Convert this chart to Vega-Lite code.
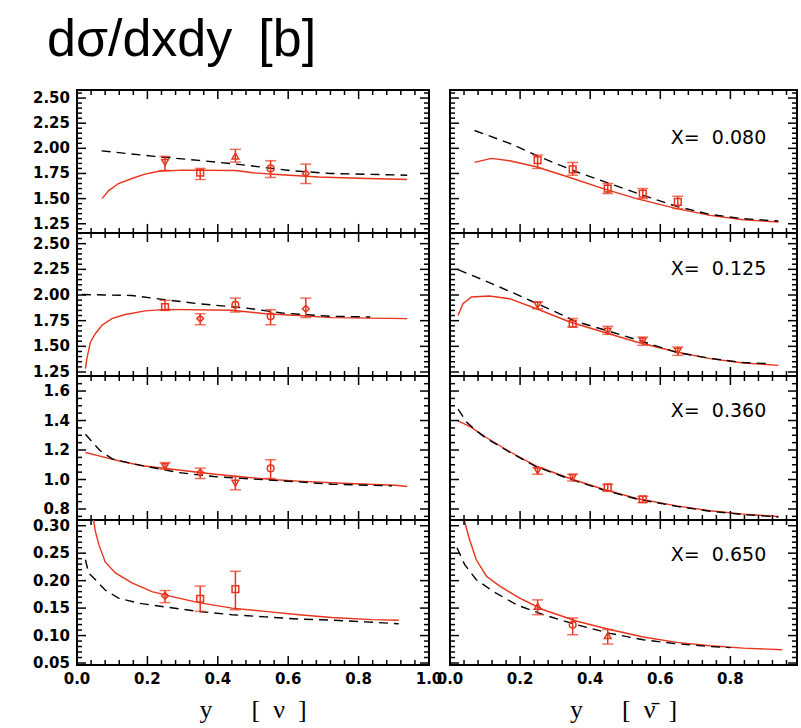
{
"$schema": "https://vega.github.io/schema/vega-lite/v6.json",
"padding": {"left": 31, "top": 14, "right": 5, "bottom": 5},
"background": "white",
"title": {"text": "dσ/dxdy\u2002[b]", "anchor": "start", "frame": "bounds", "font": "Liberation Sans", "fontSize": 52, "fontWeight": "normal", "color": "black", "offset": 21, "dx": 15},
"config": {
  "view": {"stroke": "black", "strokeWidth": 2},
  "axis": {"domain": false, "grid": false, "ticks": false, "labels": false},
  "rule": {"color": "black", "strokeWidth": 1.5}
},
"datasets": {
"curves": [
{"p":"L1","m":"s","x":0.071,"v":1.50},{"p":"L1","m":"s","x":0.09,"v":1.58},{"p":"L1","m":"s","x":0.118,"v":1.65},{"p":"L1","m":"s","x":0.156,"v":1.70},{"p":"L1","m":"s","x":0.193,"v":1.743},{"p":"L1","m":"s","x":0.232,"v":1.772},{"p":"L1","m":"s","x":0.3,"v":1.783},{"p":"L1","m":"s","x":0.45,"v":1.78},{"p":"L1","m":"s","x":0.5,"v":1.757},{"p":"L1","m":"s","x":0.58,"v":1.737},{"p":"L1","m":"s","x":0.686,"v":1.715},{"p":"L1","m":"s","x":0.8,"v":1.702},{"p":"L1","m":"s","x":0.886,"v":1.695},{"p":"L1","m":"s","x":0.938,"v":1.69},
{"p":"L1","m":"d","x":0.07,"v":1.975},{"p":"L1","m":"d","x":0.22,"v":1.92},{"p":"L1","m":"d","x":0.346,"v":1.88},{"p":"L1","m":"d","x":0.478,"v":1.833},{"p":"L1","m":"d","x":0.61,"v":1.777},{"p":"L1","m":"d","x":0.72,"v":1.75},{"p":"L1","m":"d","x":0.938,"v":1.733},
{"p":"R1","m":"s","x":0.07,"v":1.86},{"p":"R1","m":"s","x":0.118,"v":1.90},{"p":"R1","m":"s","x":0.17,"v":1.877},{"p":"R1","m":"s","x":0.246,"v":1.817},{"p":"R1","m":"s","x":0.342,"v":1.71},{"p":"R1","m":"s","x":0.437,"v":1.60},{"p":"R1","m":"s","x":0.532,"v":1.50},{"p":"R1","m":"s","x":0.647,"v":1.40},{"p":"R1","m":"s","x":0.742,"v":1.333},{"p":"R1","m":"s","x":0.837,"v":1.29},{"p":"R1","m":"s","x":0.937,"v":1.267},
{"p":"R1","m":"d","x":0.07,"v":2.177},{"p":"R1","m":"d","x":0.17,"v":2.05},{"p":"R1","m":"d","x":0.266,"v":1.90},{"p":"R1","m":"d","x":0.36,"v":1.767},{"p":"R1","m":"d","x":0.456,"v":1.65},{"p":"R1","m":"d","x":0.551,"v":1.533},{"p":"R1","m":"d","x":0.646,"v":1.423},{"p":"R1","m":"d","x":0.742,"v":1.343},{"p":"R1","m":"d","x":0.837,"v":1.30},{"p":"R1","m":"d","x":0.937,"v":1.277},
{"p":"L2","m":"s","x":0.024,"v":1.282},{"p":"L2","m":"s","x":0.028,"v":1.38},{"p":"L2","m":"s","x":0.038,"v":1.54},{"p":"L2","m":"s","x":0.052,"v":1.623},{"p":"L2","m":"s","x":0.071,"v":1.705},{"p":"L2","m":"s","x":0.099,"v":1.77},{"p":"L2","m":"s","x":0.137,"v":1.81},{"p":"L2","m":"s","x":0.194,"v":1.845},{"p":"L2","m":"s","x":0.25,"v":1.86},{"p":"L2","m":"s","x":0.44,"v":1.852},{"p":"L2","m":"s","x":0.535,"v":1.818},{"p":"L2","m":"s","x":0.63,"v":1.80},{"p":"L2","m":"s","x":0.724,"v":1.78},{"p":"L2","m":"s","x":0.938,"v":1.77},
{"p":"L2","m":"d","x":0.014,"v":2.005},{"p":"L2","m":"d","x":0.156,"v":1.995},{"p":"L2","m":"d","x":0.25,"v":1.954},{"p":"L2","m":"d","x":0.346,"v":1.915},{"p":"L2","m":"d","x":0.48,"v":1.873},{"p":"L2","m":"d","x":0.582,"v":1.825},{"p":"L2","m":"d","x":0.724,"v":1.792},{"p":"L2","m":"d","x":0.833,"v":1.786},
{"p":"R2","m":"s","x":0.023,"v":1.80},{"p":"R2","m":"s","x":0.037,"v":1.915},{"p":"R2","m":"s","x":0.061,"v":1.98},{"p":"R2","m":"s","x":0.113,"v":1.99},{"p":"R2","m":"s","x":0.17,"v":1.964},{"p":"R2","m":"s","x":0.247,"v":1.866},{"p":"R2","m":"s","x":0.342,"v":1.737},{"p":"R2","m":"s","x":0.437,"v":1.64},{"p":"R2","m":"s","x":0.532,"v":1.542},{"p":"R2","m":"s","x":0.647,"v":1.445},{"p":"R2","m":"s","x":0.742,"v":1.38},{"p":"R2","m":"s","x":0.837,"v":1.337},{"p":"R2","m":"s","x":0.937,"v":1.315},
{"p":"R2","m":"d","x":0.023,"v":2.247},{"p":"R2","m":"d","x":0.075,"v":2.175},{"p":"R2","m":"d","x":0.17,"v":2.036},{"p":"R2","m":"d","x":0.266,"v":1.89},{"p":"R2","m":"d","x":0.361,"v":1.74},{"p":"R2","m":"d","x":0.456,"v":1.645},{"p":"R2","m":"d","x":0.551,"v":1.545},{"p":"R2","m":"d","x":0.647,"v":1.44},{"p":"R2","m":"d","x":0.742,"v":1.383},{"p":"R2","m":"d","x":0.837,"v":1.342},{"p":"R2","m":"d","x":0.918,"v":1.33},
{"p":"L3","m":"s","x":0.024,"v":1.183},{"p":"L3","m":"s","x":0.062,"v":1.16},{"p":"L3","m":"s","x":0.118,"v":1.127},{"p":"L3","m":"s","x":0.185,"v":1.093},{"p":"L3","m":"s","x":0.27,"v":1.07},{"p":"L3","m":"s","x":0.393,"v":1.036},{"p":"L3","m":"s","x":0.488,"v":1.014},{"p":"L3","m":"s","x":0.563,"v":0.998},{"p":"L3","m":"s","x":0.63,"v":0.989},{"p":"L3","m":"s","x":0.753,"v":0.975},{"p":"L3","m":"s","x":0.904,"v":0.961},{"p":"L3","m":"s","x":0.938,"v":0.953},
{"p":"L3","m":"d","x":0.024,"v":1.307},{"p":"L3","m":"d","x":0.045,"v":1.25},{"p":"L3","m":"d","x":0.066,"v":1.195},{"p":"L3","m":"d","x":0.1,"v":1.14},{"p":"L3","m":"d","x":0.156,"v":1.108},{"p":"L3","m":"d","x":0.289,"v":1.047},{"p":"L3","m":"d","x":0.388,"v":1.02},{"p":"L3","m":"d","x":0.535,"v":0.998},{"p":"L3","m":"d","x":0.63,"v":0.984},{"p":"L3","m":"d","x":0.724,"v":0.968},{"p":"L3","m":"d","x":0.895,"v":0.957},
{"p":"R3","m":"s","x":0.023,"v":1.398},{"p":"R3","m":"s","x":0.06,"v":1.355},{"p":"R3","m":"s","x":0.1,"v":1.29},{"p":"R3","m":"s","x":0.17,"v":1.19},{"p":"R3","m":"s","x":0.247,"v":1.09},{"p":"R3","m":"s","x":0.342,"v":1.007},{"p":"R3","m":"s","x":0.437,"v":0.934},{"p":"R3","m":"s","x":0.532,"v":0.871},{"p":"R3","m":"s","x":0.647,"v":0.821},{"p":"R3","m":"s","x":0.742,"v":0.788},{"p":"R3","m":"s","x":0.837,"v":0.765},{"p":"R3","m":"s","x":0.937,"v":0.749},
{"p":"R3","m":"d","x":0.023,"v":1.477},{"p":"R3","m":"d","x":0.047,"v":1.39},{"p":"R3","m":"d","x":0.07,"v":1.34},{"p":"R3","m":"d","x":0.1,"v":1.285},{"p":"R3","m":"d","x":0.17,"v":1.185},{"p":"R3","m":"d","x":0.247,"v":1.086},{"p":"R3","m":"d","x":0.342,"v":1.003},{"p":"R3","m":"d","x":0.437,"v":0.93},{"p":"R3","m":"d","x":0.532,"v":0.868},{"p":"R3","m":"d","x":0.647,"v":0.818},{"p":"R3","m":"d","x":0.742,"v":0.785},{"p":"R3","m":"d","x":0.837,"v":0.762},{"p":"R3","m":"d","x":0.937,"v":0.746},
{"p":"L4","m":"s","x":0.045,"v":0.32},{"p":"L4","m":"s","x":0.052,"v":0.29},{"p":"L4","m":"s","x":0.062,"v":0.266},{"p":"L4","m":"s","x":0.08,"v":0.234},{"p":"L4","m":"s","x":0.109,"v":0.214},{"p":"L4","m":"s","x":0.156,"v":0.196},{"p":"L4","m":"s","x":0.213,"v":0.18},{"p":"L4","m":"s","x":0.27,"v":0.171},{"p":"L4","m":"s","x":0.346,"v":0.16},{"p":"L4","m":"s","x":0.44,"v":0.15},{"p":"L4","m":"s","x":0.535,"v":0.144},{"p":"L4","m":"s","x":0.63,"v":0.138},{"p":"L4","m":"s","x":0.724,"v":0.133},{"p":"L4","m":"s","x":0.838,"v":0.129},{"p":"L4","m":"s","x":0.914,"v":0.128},
{"p":"L4","m":"d","x":0.024,"v":0.238},{"p":"L4","m":"d","x":0.033,"v":0.214},{"p":"L4","m":"d","x":0.052,"v":0.202},{"p":"L4","m":"d","x":0.08,"v":0.183},{"p":"L4","m":"d","x":0.118,"v":0.168},{"p":"L4","m":"d","x":0.175,"v":0.159},{"p":"L4","m":"d","x":0.251,"v":0.152},{"p":"L4","m":"d","x":0.346,"v":0.144},{"p":"L4","m":"d","x":0.44,"v":0.138},{"p":"L4","m":"d","x":0.535,"v":0.134},{"p":"L4","m":"d","x":0.63,"v":0.130},{"p":"L4","m":"d","x":0.724,"v":0.128},{"p":"L4","m":"d","x":0.819,"v":0.125},{"p":"L4","m":"d","x":0.914,"v":0.1215},
{"p":"R4","m":"s","x":0.037,"v":0.32},{"p":"R4","m":"s","x":0.045,"v":0.30},{"p":"R4","m":"s","x":0.056,"v":0.2745},{"p":"R4","m":"s","x":0.075,"v":0.238},{"p":"R4","m":"s","x":0.104,"v":0.208},{"p":"R4","m":"s","x":0.142,"v":0.19},{"p":"R4","m":"s","x":0.199,"v":0.168},{"p":"R4","m":"s","x":0.266,"v":0.147},{"p":"R4","m":"s","x":0.362,"v":0.126},{"p":"R4","m":"s","x":0.456,"v":0.111},{"p":"R4","m":"s","x":0.551,"v":0.0973},{"p":"R4","m":"s","x":0.647,"v":0.0876},{"p":"R4","m":"s","x":0.742,"v":0.0814},{"p":"R4","m":"s","x":0.837,"v":0.0772},{"p":"R4","m":"s","x":0.947,"v":0.0741},
{"p":"R4","m":"d","x":0.02,"v":0.26},{"p":"R4","m":"d","x":0.042,"v":0.229},{"p":"R4","m":"d","x":0.075,"v":0.2016},{"p":"R4","m":"d","x":0.123,"v":0.1805},{"p":"R4","m":"d","x":0.19,"v":0.156},{"p":"R4","m":"d","x":0.266,"v":0.138},{"p":"R4","m":"d","x":0.362,"v":0.1197},{"p":"R4","m":"d","x":0.456,"v":0.104},{"p":"R4","m":"d","x":0.551,"v":0.0923},{"p":"R4","m":"d","x":0.647,"v":0.085},{"p":"R4","m":"d","x":0.742,"v":0.08},{"p":"R4","m":"d","x":0.8,"v":0.078}
],
"pts": [
{"p":"L1","x":0.25,"v":1.86,"lo":1.78,"hi":1.92,"sym":"dn"},{"p":"L1","x":0.35,"v":1.757,"lo":1.69,"hi":1.80,"sym":"sq"},{"p":"L1","x":0.45,"v":1.923,"lo":1.863,"hi":1.99,"sym":"up"},{"p":"L1","x":0.55,"v":1.80,"lo":1.71,"hi":1.877,"sym":"ci"},{"p":"L1","x":0.65,"v":1.75,"lo":1.65,"hi":1.843,"sym":"di"},
{"p":"R1","x":0.25,"v":1.883,"lo":1.80,"hi":1.933,"sym":"sq"},{"p":"R1","x":0.35,"v":1.79,"lo":1.733,"hi":1.86,"sym":"sq"},{"p":"R1","x":0.45,"v":1.60,"lo":1.55,"hi":1.65,"sym":"sq"},{"p":"R1","x":0.55,"v":1.55,"lo":1.50,"hi":1.60,"sym":"sq"},{"p":"R1","x":0.65,"v":1.467,"lo":1.40,"hi":1.523,"sym":"sq"},
{"p":"L2","x":0.25,"v":1.883,"lo":1.85,"hi":1.948,"sym":"sq"},{"p":"L2","x":0.35,"v":1.77,"lo":1.71,"hi":1.818,"sym":"di"},{"p":"L2","x":0.45,"v":1.905,"lo":1.834,"hi":1.97,"sym":"ci"},{"p":"L2","x":0.55,"v":1.792,"lo":1.71,"hi":1.857,"sym":"ci"},{"p":"L2","x":0.65,"v":1.866,"lo":1.78,"hi":1.97,"sym":"di"},
{"p":"R2","x":0.25,"v":1.90,"lo":1.866,"hi":1.932,"sym":"dn"},{"p":"R2","x":0.35,"v":1.72,"lo":1.688,"hi":1.77,"sym":"sq"},{"p":"R2","x":0.45,"v":1.649,"lo":1.617,"hi":1.695,"sym":"dn"},{"p":"R2","x":0.55,"v":1.552,"lo":1.51,"hi":1.59,"sym":"dn"},{"p":"R2","x":0.65,"v":1.454,"lo":1.412,"hi":1.493,"sym":"dn"},
{"p":"L3","x":0.25,"v":1.088,"lo":1.07,"hi":1.115,"sym":"dn"},{"p":"L3","x":0.35,"v":1.047,"lo":1.007,"hi":1.077,"sym":"di"},{"p":"L3","x":0.45,"v":0.975,"lo":0.93,"hi":1.02,"sym":"dn"},{"p":"L3","x":0.55,"v":1.075,"lo":1.007,"hi":1.134,"sym":"ci"},
{"p":"R3","x":0.25,"v":1.059,"lo":1.036,"hi":1.081,"sym":"dn"},{"p":"R3","x":0.35,"v":1.014,"lo":0.99,"hi":1.036,"sym":"dn"},{"p":"R3","x":0.45,"v":0.946,"lo":0.921,"hi":0.966,"sym":"sq"},{"p":"R3","x":0.55,"v":0.866,"lo":0.844,"hi":0.885,"sym":"sq"},
{"p":"L4","x":0.25,"v":0.1725,"lo":0.160,"hi":0.182,"sym":"di"},{"p":"L4","x":0.35,"v":0.167,"lo":0.144,"hi":0.19,"sym":"sq"},{"p":"L4","x":0.45,"v":0.1847,"lo":0.147,"hi":0.217,"sym":"sq"},
{"p":"R4","x":0.25,"v":0.153,"lo":0.138,"hi":0.165,"sym":"up"},{"p":"R4","x":0.35,"v":0.1197,"lo":0.1015,"hi":0.132,"sym":"ci"},{"p":"R4","x":0.45,"v":0.1,"lo":0.0845,"hi":0.111,"sym":"up"}
],
"labels": [
{"p":"R1","x":0.63,"v":2.10,"t":"X= \u00a00.080"},
{"p":"R2","x":0.63,"v":2.25,"t":"X= \u00a00.125"},
{"p":"R3","x":0.63,"v":1.464,"t":"X= \u00a00.360"},
{"p":"R4","x":0.63,"v":0.246,"t":"X= \u00a00.650"}
],
"axt": [
{"p":"L4","t":"y\u2003\u2002[\u2002\u03bd\u2002]"},
{"p":"R4","t":"y\u2003\u2002[\u2002\u03bd\u0304\u2002]"}
],
"xt": [
{"x":0,"k":"maj"},{"x":0.2,"k":"maj"},{"x":0.4,"k":"maj"},{"x":0.6,"k":"maj"},{"x":0.8,"k":"maj"},{"x":1,"k":"maj"},
{"x":0.04,"k":"min"},{"x":0.08,"k":"min"},{"x":0.12,"k":"min"},{"x":0.16,"k":"min"},{"x":0.24,"k":"min"},{"x":0.28,"k":"min"},{"x":0.32,"k":"min"},{"x":0.36,"k":"min"},{"x":0.44,"k":"min"},{"x":0.48,"k":"min"},{"x":0.52,"k":"min"},{"x":0.56,"k":"min"},{"x":0.64,"k":"min"},{"x":0.68,"k":"min"},{"x":0.72,"k":"min"},{"x":0.76,"k":"min"},{"x":0.84,"k":"min"},{"x":0.88,"k":"min"},{"x":0.92,"k":"min"},{"x":0.96,"k":"min"}
],
"yt": [
{"r":1,"v":1.25,"k":"maj"},{"r":1,"v":1.5,"k":"maj"},{"r":1,"v":1.75,"k":"maj"},{"r":1,"v":2.0,"k":"maj"},{"r":1,"v":2.25,"k":"maj"},{"r":1,"v":2.5,"k":"maj"},
{"r":1,"v":1.2,"k":"min"},{"r":1,"v":1.3,"k":"min"},{"r":1,"v":1.35,"k":"min"},{"r":1,"v":1.4,"k":"min"},{"r":1,"v":1.45,"k":"min"},{"r":1,"v":1.55,"k":"min"},{"r":1,"v":1.6,"k":"min"},{"r":1,"v":1.65,"k":"min"},{"r":1,"v":1.7,"k":"min"},{"r":1,"v":1.8,"k":"min"},{"r":1,"v":1.85,"k":"min"},{"r":1,"v":1.9,"k":"min"},{"r":1,"v":1.95,"k":"min"},{"r":1,"v":2.05,"k":"min"},{"r":1,"v":2.1,"k":"min"},{"r":1,"v":2.15,"k":"min"},{"r":1,"v":2.2,"k":"min"},{"r":1,"v":2.3,"k":"min"},{"r":1,"v":2.35,"k":"min"},{"r":1,"v":2.4,"k":"min"},{"r":1,"v":2.45,"k":"min"},{"r":1,"v":2.55,"k":"min"},
{"r":2,"v":1.25,"k":"maj"},{"r":2,"v":1.5,"k":"maj"},{"r":2,"v":1.75,"k":"maj"},{"r":2,"v":2.0,"k":"maj"},{"r":2,"v":2.25,"k":"maj"},{"r":2,"v":2.5,"k":"maj"},
{"r":2,"v":1.3,"k":"min"},{"r":2,"v":1.35,"k":"min"},{"r":2,"v":1.4,"k":"min"},{"r":2,"v":1.45,"k":"min"},{"r":2,"v":1.55,"k":"min"},{"r":2,"v":1.6,"k":"min"},{"r":2,"v":1.65,"k":"min"},{"r":2,"v":1.7,"k":"min"},{"r":2,"v":1.8,"k":"min"},{"r":2,"v":1.85,"k":"min"},{"r":2,"v":1.9,"k":"min"},{"r":2,"v":1.95,"k":"min"},{"r":2,"v":2.05,"k":"min"},{"r":2,"v":2.1,"k":"min"},{"r":2,"v":2.15,"k":"min"},{"r":2,"v":2.2,"k":"min"},{"r":2,"v":2.3,"k":"min"},{"r":2,"v":2.35,"k":"min"},{"r":2,"v":2.4,"k":"min"},{"r":2,"v":2.45,"k":"min"},{"r":2,"v":2.55,"k":"min"},{"r":2,"v":2.6,"k":"min"},
{"r":3,"v":0.8,"k":"maj"},{"r":3,"v":1.0,"k":"maj"},{"r":3,"v":1.2,"k":"maj"},{"r":3,"v":1.4,"k":"maj"},{"r":3,"v":1.6,"k":"maj"},
{"r":3,"v":0.75,"k":"min"},{"r":3,"v":0.85,"k":"min"},{"r":3,"v":0.9,"k":"min"},{"r":3,"v":0.95,"k":"min"},{"r":3,"v":1.05,"k":"min"},{"r":3,"v":1.1,"k":"min"},{"r":3,"v":1.15,"k":"min"},{"r":3,"v":1.25,"k":"min"},{"r":3,"v":1.3,"k":"min"},{"r":3,"v":1.35,"k":"min"},{"r":3,"v":1.45,"k":"min"},{"r":3,"v":1.5,"k":"min"},{"r":3,"v":1.55,"k":"min"},{"r":3,"v":1.65,"k":"min"},{"r":3,"v":1.7,"k":"min"},
{"r":4,"v":0.05,"k":"maj"},{"r":4,"v":0.1,"k":"maj"},{"r":4,"v":0.15,"k":"maj"},{"r":4,"v":0.2,"k":"maj"},{"r":4,"v":0.25,"k":"maj"},{"r":4,"v":0.3,"k":"maj"},
{"r":4,"v":0.06,"k":"min"},{"r":4,"v":0.07,"k":"min"},{"r":4,"v":0.08,"k":"min"},{"r":4,"v":0.09,"k":"min"},{"r":4,"v":0.11,"k":"min"},{"r":4,"v":0.12,"k":"min"},{"r":4,"v":0.13,"k":"min"},{"r":4,"v":0.14,"k":"min"},{"r":4,"v":0.16,"k":"min"},{"r":4,"v":0.17,"k":"min"},{"r":4,"v":0.18,"k":"min"},{"r":4,"v":0.19,"k":"min"},{"r":4,"v":0.21,"k":"min"},{"r":4,"v":0.22,"k":"min"},{"r":4,"v":0.23,"k":"min"},{"r":4,"v":0.24,"k":"min"},{"r":4,"v":0.26,"k":"min"},{"r":4,"v":0.27,"k":"min"},{"r":4,"v":0.28,"k":"min"},{"r":4,"v":0.29,"k":"min"},{"r":4,"v":0.31,"k":"min"}
]
},
"columns": 2,
"spacing": {"row": 0, "column": 21},
"bounds": "flush",
"concat": [
{"width": 352, "height": 143,
 "layer": [
  {"data": {"name": "curves"}, "transform": [{"filter": "datum.p=='L1' && datum.m=='s'"}], "mark": {"type": "line", "color": "#e8341c", "strokeWidth": 1.4, "clip": true},
   "encoding": {"x": {"field": "x", "type": "quantitative", "scale": {"domain": [0, 1]}, "axis": null}, "y": {"field": "v", "type": "quantitative", "scale": {"domain": [1.158, 2.58]}, "axis": null}}},
  {"data": {"name": "curves"}, "transform": [{"filter": "datum.p=='L1' && datum.m=='d'"}], "mark": {"type": "line", "color": "black", "strokeWidth": 1.4, "strokeDash": [9, 6], "clip": true},
   "encoding": {"x": {"field": "x", "type": "quantitative", "scale": {"domain": [0, 1]}, "axis": null}, "y": {"field": "v", "type": "quantitative", "scale": {"domain": [1.158, 2.58]}, "axis": null}}},
  {"data": {"name": "pts"}, "transform": [{"filter": "datum.p=='L1'"}], "mark": {"type": "rule", "color": "#e8341c", "strokeWidth": 1.5},
   "encoding": {"x": {"field": "x", "type": "quantitative", "scale": {"domain": [0, 1]}, "axis": null}, "y": {"field": "lo", "type": "quantitative", "scale": {"domain": [1.158, 2.58]}, "axis": null}, "y2": {"field": "hi"}}},
  {"data": {"name": "pts"}, "transform": [{"filter": "datum.p=='L1'"}], "mark": {"type": "point", "color": "#e8341c", "strokeWidth": 1.5, "size": 45, "filled": false, "opacity": 1},
   "encoding": {"x": {"field": "x", "type": "quantitative", "scale": {"domain": [0, 1]}, "axis": null}, "y": {"field": "v", "type": "quantitative", "scale": {"domain": [1.158, 2.58]}, "axis": null},
                "shape": {"field": "sym", "type": "nominal", "scale": {"domain": ["dn","sq","up","ci","di"], "range": ["triangle-down","square","triangle-up","circle","diamond"]}, "legend": null}}},
  {"data": {"name": "pts"}, "transform": [{"filter": "datum.p=='L1'"}, {"fold": ["lo", "hi"], "as": ["k", "e"]}], "mark": {"type": "tick", "orient": "horizontal", "color": "#e8341c", "size": 11, "thickness": 1.5},
   "encoding": {"x": {"field": "x", "type": "quantitative", "scale": {"domain": [0, 1]}, "axis": null}, "y": {"field": "e", "type": "quantitative", "scale": {"domain": [1.158, 2.58]}, "axis": null}}},
  {"data": {"name": "xt"}, "transform": [{"filter": "datum.k=='maj'"}], "mark": "rule", "encoding": {"x": {"field": "x", "type": "quantitative", "scale": {"domain": [0, 1]}, "axis": null}, "y": {"datum": 1.158, "type": "quantitative", "scale": {"domain": [1.158, 2.58]}, "axis": null}, "y2": {"datum": 1.248}}},
  {"data": {"name": "xt"}, "transform": [{"filter": "datum.k=='min'"}], "mark": "rule", "encoding": {"x": {"field": "x", "type": "quantitative", "scale": {"domain": [0, 1]}, "axis": null}, "y": {"datum": 1.158, "type": "quantitative", "scale": {"domain": [1.158, 2.58]}, "axis": null}, "y2": {"datum": 1.208}}},
  {"data": {"name": "xt"}, "transform": [{"filter": "datum.k=='maj'"}], "mark": "rule", "encoding": {"x": {"field": "x", "type": "quantitative", "scale": {"domain": [0, 1]}, "axis": null}, "y": {"datum": 2.58, "type": "quantitative", "scale": {"domain": [1.158, 2.58]}, "axis": null}, "y2": {"datum": 2.49}}},
  {"data": {"name": "xt"}, "transform": [{"filter": "datum.k=='min'"}], "mark": "rule", "encoding": {"x": {"field": "x", "type": "quantitative", "scale": {"domain": [0, 1]}, "axis": null}, "y": {"datum": 2.58, "type": "quantitative", "scale": {"domain": [1.158, 2.58]}, "axis": null}, "y2": {"datum": 2.53}}},
  {"data": {"name": "yt"}, "transform": [{"filter": "datum.r==1 && datum.k=='maj'"}], "mark": "rule", "encoding": {"y": {"field": "v", "type": "quantitative", "scale": {"domain": [1.158, 2.58]}, "axis": null}, "x": {"datum": 0, "type": "quantitative", "scale": {"domain": [0, 1]}, "axis": null}, "x2": {"datum": 0.0256}}},
  {"data": {"name": "yt"}, "transform": [{"filter": "datum.r==1 && datum.k=='min'"}], "mark": "rule", "encoding": {"y": {"field": "v", "type": "quantitative", "scale": {"domain": [1.158, 2.58]}, "axis": null}, "x": {"datum": 0, "type": "quantitative", "scale": {"domain": [0, 1]}, "axis": null}, "x2": {"datum": 0.0142}}},
  {"data": {"name": "yt"}, "transform": [{"filter": "datum.r==1 && datum.k=='maj'"}], "mark": "rule", "encoding": {"y": {"field": "v", "type": "quantitative", "scale": {"domain": [1.158, 2.58]}, "axis": null}, "x": {"datum": 1, "type": "quantitative", "scale": {"domain": [0, 1]}, "axis": null}, "x2": {"datum": 0.9744}}},
  {"data": {"name": "yt"}, "transform": [{"filter": "datum.r==1 && datum.k=='min'"}], "mark": "rule", "encoding": {"y": {"field": "v", "type": "quantitative", "scale": {"domain": [1.158, 2.58]}, "axis": null}, "x": {"datum": 1, "type": "quantitative", "scale": {"domain": [0, 1]}, "axis": null}, "x2": {"datum": 0.9858}}},
  {"data": {"name": "yt"}, "transform": [{"filter": "datum.r==1 && datum.k=='maj'"}], "mark": {"type": "text", "align": "right", "baseline": "middle", "dx": -7, "font": "DejaVu Sans", "fontWeight": "bold", "fontSize": 15, "color": "black"},
   "encoding": {"y": {"field": "v", "type": "quantitative", "scale": {"domain": [1.158, 2.58]}, "axis": null}, "x": {"datum": 0, "type": "quantitative", "scale": {"domain": [0, 1]}, "axis": null}, "text": {"field": "v", "type": "quantitative", "format": ".2f"}}}
 ]},
{"width": 347, "height": 143,
 "layer": [
  {"data": {"name": "curves"}, "transform": [{"filter": "datum.p=='R1' && datum.m=='s'"}], "mark": {"type": "line", "color": "#e8341c", "strokeWidth": 1.4, "clip": true},
   "encoding": {"x": {"field": "x", "type": "quantitative", "scale": {"domain": [0, 0.99]}, "axis": null}, "y": {"field": "v", "type": "quantitative", "scale": {"domain": [1.158, 2.58]}, "axis": null}}},
  {"data": {"name": "curves"}, "transform": [{"filter": "datum.p=='R1' && datum.m=='d'"}], "mark": {"type": "line", "color": "black", "strokeWidth": 1.4, "strokeDash": [9, 6], "clip": true},
   "encoding": {"x": {"field": "x", "type": "quantitative", "scale": {"domain": [0, 0.99]}, "axis": null}, "y": {"field": "v", "type": "quantitative", "scale": {"domain": [1.158, 2.58]}, "axis": null}}},
  {"data": {"name": "pts"}, "transform": [{"filter": "datum.p=='R1'"}], "mark": {"type": "rule", "color": "#e8341c", "strokeWidth": 1.5},
   "encoding": {"x": {"field": "x", "type": "quantitative", "scale": {"domain": [0, 0.99]}, "axis": null}, "y": {"field": "lo", "type": "quantitative", "scale": {"domain": [1.158, 2.58]}, "axis": null}, "y2": {"field": "hi"}}},
  {"data": {"name": "pts"}, "transform": [{"filter": "datum.p=='R1'"}], "mark": {"type": "point", "color": "#e8341c", "strokeWidth": 1.5, "size": 45, "filled": false, "opacity": 1},
   "encoding": {"x": {"field": "x", "type": "quantitative", "scale": {"domain": [0, 0.99]}, "axis": null}, "y": {"field": "v", "type": "quantitative", "scale": {"domain": [1.158, 2.58]}, "axis": null},
                "shape": {"field": "sym", "type": "nominal", "scale": {"domain": ["dn","sq","up","ci","di"], "range": ["triangle-down","square","triangle-up","circle","diamond"]}, "legend": null}}},
  {"data": {"name": "pts"}, "transform": [{"filter": "datum.p=='R1'"}, {"fold": ["lo", "hi"], "as": ["k", "e"]}], "mark": {"type": "tick", "orient": "horizontal", "color": "#e8341c", "size": 11, "thickness": 1.5},
   "encoding": {"x": {"field": "x", "type": "quantitative", "scale": {"domain": [0, 0.99]}, "axis": null}, "y": {"field": "e", "type": "quantitative", "scale": {"domain": [1.158, 2.58]}, "axis": null}}},
  {"data": {"name": "labels"}, "transform": [{"filter": "datum.p=='R1'"}], "mark": {"type": "text", "align": "left", "baseline": "middle", "font": "DejaVu Sans", "fontSize": 19, "color": "black"},
   "encoding": {"x": {"field": "x", "type": "quantitative", "scale": {"domain": [0, 0.99]}, "axis": null}, "y": {"field": "v", "type": "quantitative", "scale": {"domain": [1.158, 2.58]}, "axis": null}, "text": {"field": "t"}}},
  {"data": {"name": "xt"}, "transform": [{"filter": "datum.k=='maj' && datum.x<=0.99"}], "mark": "rule", "encoding": {"x": {"field": "x", "type": "quantitative", "scale": {"domain": [0, 0.99]}, "axis": null}, "y": {"datum": 1.158, "type": "quantitative", "scale": {"domain": [1.158, 2.58]}, "axis": null}, "y2": {"datum": 1.248}}},
  {"data": {"name": "xt"}, "transform": [{"filter": "datum.k=='min'"}], "mark": "rule", "encoding": {"x": {"field": "x", "type": "quantitative", "scale": {"domain": [0, 0.99]}, "axis": null}, "y": {"datum": 1.158, "type": "quantitative", "scale": {"domain": [1.158, 2.58]}, "axis": null}, "y2": {"datum": 1.208}}},
  {"data": {"name": "xt"}, "transform": [{"filter": "datum.k=='maj' && datum.x<=0.99"}], "mark": "rule", "encoding": {"x": {"field": "x", "type": "quantitative", "scale": {"domain": [0, 0.99]}, "axis": null}, "y": {"datum": 2.58, "type": "quantitative", "scale": {"domain": [1.158, 2.58]}, "axis": null}, "y2": {"datum": 2.49}}},
  {"data": {"name": "xt"}, "transform": [{"filter": "datum.k=='min'"}], "mark": "rule", "encoding": {"x": {"field": "x", "type": "quantitative", "scale": {"domain": [0, 0.99]}, "axis": null}, "y": {"datum": 2.58, "type": "quantitative", "scale": {"domain": [1.158, 2.58]}, "axis": null}, "y2": {"datum": 2.53}}},
  {"data": {"name": "yt"}, "transform": [{"filter": "datum.r==1 && datum.k=='maj'"}], "mark": "rule", "encoding": {"y": {"field": "v", "type": "quantitative", "scale": {"domain": [1.158, 2.58]}, "axis": null}, "x": {"datum": 0, "type": "quantitative", "scale": {"domain": [0, 0.99]}, "axis": null}, "x2": {"datum": 0.0256}}},
  {"data": {"name": "yt"}, "transform": [{"filter": "datum.r==1 && datum.k=='min'"}], "mark": "rule", "encoding": {"y": {"field": "v", "type": "quantitative", "scale": {"domain": [1.158, 2.58]}, "axis": null}, "x": {"datum": 0, "type": "quantitative", "scale": {"domain": [0, 0.99]}, "axis": null}, "x2": {"datum": 0.0142}}},
  {"data": {"name": "yt"}, "transform": [{"filter": "datum.r==1 && datum.k=='maj'"}], "mark": "rule", "encoding": {"y": {"field": "v", "type": "quantitative", "scale": {"domain": [1.158, 2.58]}, "axis": null}, "x": {"datum": 0.99, "type": "quantitative", "scale": {"domain": [0, 0.99]}, "axis": null}, "x2": {"datum": 0.9644}}},
  {"data": {"name": "yt"}, "transform": [{"filter": "datum.r==1 && datum.k=='min'"}], "mark": "rule", "encoding": {"y": {"field": "v", "type": "quantitative", "scale": {"domain": [1.158, 2.58]}, "axis": null}, "x": {"datum": 0.99, "type": "quantitative", "scale": {"domain": [0, 0.99]}, "axis": null}, "x2": {"datum": 0.9758}}}
 ]},
{"width": 352, "height": 143,
 "layer": [
  {"data": {"name": "curves"}, "transform": [{"filter": "datum.p=='L2' && datum.m=='s'"}], "mark": {"type": "line", "color": "#e8341c", "strokeWidth": 1.4, "clip": true},
   "encoding": {"x": {"field": "x", "type": "quantitative", "scale": {"domain": [0, 1]}, "axis": null}, "y": {"field": "v", "type": "quantitative", "scale": {"domain": [1.211, 2.604]}, "axis": null}}},
  {"data": {"name": "curves"}, "transform": [{"filter": "datum.p=='L2' && datum.m=='d'"}], "mark": {"type": "line", "color": "black", "strokeWidth": 1.4, "strokeDash": [9, 6], "clip": true},
   "encoding": {"x": {"field": "x", "type": "quantitative", "scale": {"domain": [0, 1]}, "axis": null}, "y": {"field": "v", "type": "quantitative", "scale": {"domain": [1.211, 2.604]}, "axis": null}}},
  {"data": {"name": "pts"}, "transform": [{"filter": "datum.p=='L2'"}], "mark": {"type": "rule", "color": "#e8341c", "strokeWidth": 1.5},
   "encoding": {"x": {"field": "x", "type": "quantitative", "scale": {"domain": [0, 1]}, "axis": null}, "y": {"field": "lo", "type": "quantitative", "scale": {"domain": [1.211, 2.604]}, "axis": null}, "y2": {"field": "hi"}}},
  {"data": {"name": "pts"}, "transform": [{"filter": "datum.p=='L2'"}], "mark": {"type": "point", "color": "#e8341c", "strokeWidth": 1.5, "size": 45, "filled": false, "opacity": 1},
   "encoding": {"x": {"field": "x", "type": "quantitative", "scale": {"domain": [0, 1]}, "axis": null}, "y": {"field": "v", "type": "quantitative", "scale": {"domain": [1.211, 2.604]}, "axis": null},
                "shape": {"field": "sym", "type": "nominal", "scale": {"domain": ["dn","sq","up","ci","di"], "range": ["triangle-down","square","triangle-up","circle","diamond"]}, "legend": null}}},
  {"data": {"name": "pts"}, "transform": [{"filter": "datum.p=='L2'"}, {"fold": ["lo", "hi"], "as": ["k", "e"]}], "mark": {"type": "tick", "orient": "horizontal", "color": "#e8341c", "size": 11, "thickness": 1.5},
   "encoding": {"x": {"field": "x", "type": "quantitative", "scale": {"domain": [0, 1]}, "axis": null}, "y": {"field": "e", "type": "quantitative", "scale": {"domain": [1.211, 2.604]}, "axis": null}}},
  {"data": {"name": "xt"}, "transform": [{"filter": "datum.k=='maj'"}], "mark": "rule", "encoding": {"x": {"field": "x", "type": "quantitative", "scale": {"domain": [0, 1]}, "axis": null}, "y": {"datum": 1.211, "type": "quantitative", "scale": {"domain": [1.211, 2.604]}, "axis": null}, "y2": {"datum": 1.2987}}},
  {"data": {"name": "xt"}, "transform": [{"filter": "datum.k=='min'"}], "mark": "rule", "encoding": {"x": {"field": "x", "type": "quantitative", "scale": {"domain": [0, 1]}, "axis": null}, "y": {"datum": 1.211, "type": "quantitative", "scale": {"domain": [1.211, 2.604]}, "axis": null}, "y2": {"datum": 1.2597}}},
  {"data": {"name": "xt"}, "transform": [{"filter": "datum.k=='maj'"}], "mark": "rule", "encoding": {"x": {"field": "x", "type": "quantitative", "scale": {"domain": [0, 1]}, "axis": null}, "y": {"datum": 2.604, "type": "quantitative", "scale": {"domain": [1.211, 2.604]}, "axis": null}, "y2": {"datum": 2.5163}}},
  {"data": {"name": "xt"}, "transform": [{"filter": "datum.k=='min'"}], "mark": "rule", "encoding": {"x": {"field": "x", "type": "quantitative", "scale": {"domain": [0, 1]}, "axis": null}, "y": {"datum": 2.604, "type": "quantitative", "scale": {"domain": [1.211, 2.604]}, "axis": null}, "y2": {"datum": 2.5553}}},
  {"data": {"name": "yt"}, "transform": [{"filter": "datum.r==2 && datum.k=='maj'"}], "mark": "rule", "encoding": {"y": {"field": "v", "type": "quantitative", "scale": {"domain": [1.211, 2.604]}, "axis": null}, "x": {"datum": 0, "type": "quantitative", "scale": {"domain": [0, 1]}, "axis": null}, "x2": {"datum": 0.0256}}},
  {"data": {"name": "yt"}, "transform": [{"filter": "datum.r==2 && datum.k=='min'"}], "mark": "rule", "encoding": {"y": {"field": "v", "type": "quantitative", "scale": {"domain": [1.211, 2.604]}, "axis": null}, "x": {"datum": 0, "type": "quantitative", "scale": {"domain": [0, 1]}, "axis": null}, "x2": {"datum": 0.0142}}},
  {"data": {"name": "yt"}, "transform": [{"filter": "datum.r==2 && datum.k=='maj'"}], "mark": "rule", "encoding": {"y": {"field": "v", "type": "quantitative", "scale": {"domain": [1.211, 2.604]}, "axis": null}, "x": {"datum": 1, "type": "quantitative", "scale": {"domain": [0, 1]}, "axis": null}, "x2": {"datum": 0.9744}}},
  {"data": {"name": "yt"}, "transform": [{"filter": "datum.r==2 && datum.k=='min'"}], "mark": "rule", "encoding": {"y": {"field": "v", "type": "quantitative", "scale": {"domain": [1.211, 2.604]}, "axis": null}, "x": {"datum": 1, "type": "quantitative", "scale": {"domain": [0, 1]}, "axis": null}, "x2": {"datum": 0.9858}}},
  {"data": {"name": "yt"}, "transform": [{"filter": "datum.r==2 && datum.k=='maj'"}], "mark": {"type": "text", "align": "right", "baseline": "middle", "dx": -7, "font": "DejaVu Sans", "fontWeight": "bold", "fontSize": 15, "color": "black"},
   "encoding": {"y": {"field": "v", "type": "quantitative", "scale": {"domain": [1.211, 2.604]}, "axis": null}, "x": {"datum": 0, "type": "quantitative", "scale": {"domain": [0, 1]}, "axis": null}, "text": {"field": "v", "type": "quantitative", "format": ".2f"}}}
 ]},
{"width": 347, "height": 143,
 "layer": [
  {"data": {"name": "curves"}, "transform": [{"filter": "datum.p=='R2' && datum.m=='s'"}], "mark": {"type": "line", "color": "#e8341c", "strokeWidth": 1.4, "clip": true},
   "encoding": {"x": {"field": "x", "type": "quantitative", "scale": {"domain": [0, 0.99]}, "axis": null}, "y": {"field": "v", "type": "quantitative", "scale": {"domain": [1.211, 2.604]}, "axis": null}}},
  {"data": {"name": "curves"}, "transform": [{"filter": "datum.p=='R2' && datum.m=='d'"}], "mark": {"type": "line", "color": "black", "strokeWidth": 1.4, "strokeDash": [9, 6], "clip": true},
   "encoding": {"x": {"field": "x", "type": "quantitative", "scale": {"domain": [0, 0.99]}, "axis": null}, "y": {"field": "v", "type": "quantitative", "scale": {"domain": [1.211, 2.604]}, "axis": null}}},
  {"data": {"name": "pts"}, "transform": [{"filter": "datum.p=='R2'"}], "mark": {"type": "rule", "color": "#e8341c", "strokeWidth": 1.5},
   "encoding": {"x": {"field": "x", "type": "quantitative", "scale": {"domain": [0, 0.99]}, "axis": null}, "y": {"field": "lo", "type": "quantitative", "scale": {"domain": [1.211, 2.604]}, "axis": null}, "y2": {"field": "hi"}}},
  {"data": {"name": "pts"}, "transform": [{"filter": "datum.p=='R2'"}], "mark": {"type": "point", "color": "#e8341c", "strokeWidth": 1.5, "size": 45, "filled": false, "opacity": 1},
   "encoding": {"x": {"field": "x", "type": "quantitative", "scale": {"domain": [0, 0.99]}, "axis": null}, "y": {"field": "v", "type": "quantitative", "scale": {"domain": [1.211, 2.604]}, "axis": null},
                "shape": {"field": "sym", "type": "nominal", "scale": {"domain": ["dn","sq","up","ci","di"], "range": ["triangle-down","square","triangle-up","circle","diamond"]}, "legend": null}}},
  {"data": {"name": "pts"}, "transform": [{"filter": "datum.p=='R2'"}, {"fold": ["lo", "hi"], "as": ["k", "e"]}], "mark": {"type": "tick", "orient": "horizontal", "color": "#e8341c", "size": 11, "thickness": 1.5},
   "encoding": {"x": {"field": "x", "type": "quantitative", "scale": {"domain": [0, 0.99]}, "axis": null}, "y": {"field": "e", "type": "quantitative", "scale": {"domain": [1.211, 2.604]}, "axis": null}}},
  {"data": {"name": "labels"}, "transform": [{"filter": "datum.p=='R2'"}], "mark": {"type": "text", "align": "left", "baseline": "middle", "font": "DejaVu Sans", "fontSize": 19, "color": "black"},
   "encoding": {"x": {"field": "x", "type": "quantitative", "scale": {"domain": [0, 0.99]}, "axis": null}, "y": {"field": "v", "type": "quantitative", "scale": {"domain": [1.211, 2.604]}, "axis": null}, "text": {"field": "t"}}},
  {"data": {"name": "xt"}, "transform": [{"filter": "datum.k=='maj' && datum.x<=0.99"}], "mark": "rule", "encoding": {"x": {"field": "x", "type": "quantitative", "scale": {"domain": [0, 0.99]}, "axis": null}, "y": {"datum": 1.211, "type": "quantitative", "scale": {"domain": [1.211, 2.604]}, "axis": null}, "y2": {"datum": 1.2987}}},
  {"data": {"name": "xt"}, "transform": [{"filter": "datum.k=='min'"}], "mark": "rule", "encoding": {"x": {"field": "x", "type": "quantitative", "scale": {"domain": [0, 0.99]}, "axis": null}, "y": {"datum": 1.211, "type": "quantitative", "scale": {"domain": [1.211, 2.604]}, "axis": null}, "y2": {"datum": 1.2597}}},
  {"data": {"name": "xt"}, "transform": [{"filter": "datum.k=='maj' && datum.x<=0.99"}], "mark": "rule", "encoding": {"x": {"field": "x", "type": "quantitative", "scale": {"domain": [0, 0.99]}, "axis": null}, "y": {"datum": 2.604, "type": "quantitative", "scale": {"domain": [1.211, 2.604]}, "axis": null}, "y2": {"datum": 2.5163}}},
  {"data": {"name": "xt"}, "transform": [{"filter": "datum.k=='min'"}], "mark": "rule", "encoding": {"x": {"field": "x", "type": "quantitative", "scale": {"domain": [0, 0.99]}, "axis": null}, "y": {"datum": 2.604, "type": "quantitative", "scale": {"domain": [1.211, 2.604]}, "axis": null}, "y2": {"datum": 2.5553}}},
  {"data": {"name": "yt"}, "transform": [{"filter": "datum.r==2 && datum.k=='maj'"}], "mark": "rule", "encoding": {"y": {"field": "v", "type": "quantitative", "scale": {"domain": [1.211, 2.604]}, "axis": null}, "x": {"datum": 0, "type": "quantitative", "scale": {"domain": [0, 0.99]}, "axis": null}, "x2": {"datum": 0.0256}}},
  {"data": {"name": "yt"}, "transform": [{"filter": "datum.r==2 && datum.k=='min'"}], "mark": "rule", "encoding": {"y": {"field": "v", "type": "quantitative", "scale": {"domain": [1.211, 2.604]}, "axis": null}, "x": {"datum": 0, "type": "quantitative", "scale": {"domain": [0, 0.99]}, "axis": null}, "x2": {"datum": 0.0142}}},
  {"data": {"name": "yt"}, "transform": [{"filter": "datum.r==2 && datum.k=='maj'"}], "mark": "rule", "encoding": {"y": {"field": "v", "type": "quantitative", "scale": {"domain": [1.211, 2.604]}, "axis": null}, "x": {"datum": 0.99, "type": "quantitative", "scale": {"domain": [0, 0.99]}, "axis": null}, "x2": {"datum": 0.9644}}},
  {"data": {"name": "yt"}, "transform": [{"filter": "datum.r==2 && datum.k=='min'"}], "mark": "rule", "encoding": {"y": {"field": "v", "type": "quantitative", "scale": {"domain": [1.211, 2.604]}, "axis": null}, "x": {"datum": 0.99, "type": "quantitative", "scale": {"domain": [0, 0.99]}, "axis": null}, "x2": {"datum": 0.9758}}}
 ]},
{"width": 352, "height": 144,
 "layer": [
  {"data": {"name": "curves"}, "transform": [{"filter": "datum.p=='L3' && datum.m=='s'"}], "mark": {"type": "line", "color": "#e8341c", "strokeWidth": 1.4, "clip": true},
   "encoding": {"x": {"field": "x", "type": "quantitative", "scale": {"domain": [0, 1]}, "axis": null}, "y": {"field": "v", "type": "quantitative", "scale": {"domain": [0.7254, 1.702]}, "axis": null}}},
  {"data": {"name": "curves"}, "transform": [{"filter": "datum.p=='L3' && datum.m=='d'"}], "mark": {"type": "line", "color": "black", "strokeWidth": 1.4, "strokeDash": [9, 6], "clip": true},
   "encoding": {"x": {"field": "x", "type": "quantitative", "scale": {"domain": [0, 1]}, "axis": null}, "y": {"field": "v", "type": "quantitative", "scale": {"domain": [0.7254, 1.702]}, "axis": null}}},
  {"data": {"name": "pts"}, "transform": [{"filter": "datum.p=='L3'"}], "mark": {"type": "rule", "color": "#e8341c", "strokeWidth": 1.5},
   "encoding": {"x": {"field": "x", "type": "quantitative", "scale": {"domain": [0, 1]}, "axis": null}, "y": {"field": "lo", "type": "quantitative", "scale": {"domain": [0.7254, 1.702]}, "axis": null}, "y2": {"field": "hi"}}},
  {"data": {"name": "pts"}, "transform": [{"filter": "datum.p=='L3'"}], "mark": {"type": "point", "color": "#e8341c", "strokeWidth": 1.5, "size": 45, "filled": false, "opacity": 1},
   "encoding": {"x": {"field": "x", "type": "quantitative", "scale": {"domain": [0, 1]}, "axis": null}, "y": {"field": "v", "type": "quantitative", "scale": {"domain": [0.7254, 1.702]}, "axis": null},
                "shape": {"field": "sym", "type": "nominal", "scale": {"domain": ["dn","sq","up","ci","di"], "range": ["triangle-down","square","triangle-up","circle","diamond"]}, "legend": null}}},
  {"data": {"name": "pts"}, "transform": [{"filter": "datum.p=='L3'"}, {"fold": ["lo", "hi"], "as": ["k", "e"]}], "mark": {"type": "tick", "orient": "horizontal", "color": "#e8341c", "size": 11, "thickness": 1.5},
   "encoding": {"x": {"field": "x", "type": "quantitative", "scale": {"domain": [0, 1]}, "axis": null}, "y": {"field": "e", "type": "quantitative", "scale": {"domain": [0.7254, 1.702]}, "axis": null}}},
  {"data": {"name": "xt"}, "transform": [{"filter": "datum.k=='maj'"}], "mark": "rule", "encoding": {"x": {"field": "x", "type": "quantitative", "scale": {"domain": [0, 1]}, "axis": null}, "y": {"datum": 0.7254, "type": "quantitative", "scale": {"domain": [0.7254, 1.702]}, "axis": null}, "y2": {"datum": 0.7864}}},
  {"data": {"name": "xt"}, "transform": [{"filter": "datum.k=='min'"}], "mark": "rule", "encoding": {"x": {"field": "x", "type": "quantitative", "scale": {"domain": [0, 1]}, "axis": null}, "y": {"datum": 0.7254, "type": "quantitative", "scale": {"domain": [0.7254, 1.702]}, "axis": null}, "y2": {"datum": 0.7593}}},
  {"data": {"name": "xt"}, "transform": [{"filter": "datum.k=='maj'"}], "mark": "rule", "encoding": {"x": {"field": "x", "type": "quantitative", "scale": {"domain": [0, 1]}, "axis": null}, "y": {"datum": 1.702, "type": "quantitative", "scale": {"domain": [0.7254, 1.702]}, "axis": null}, "y2": {"datum": 1.641}}},
  {"data": {"name": "xt"}, "transform": [{"filter": "datum.k=='min'"}], "mark": "rule", "encoding": {"x": {"field": "x", "type": "quantitative", "scale": {"domain": [0, 1]}, "axis": null}, "y": {"datum": 1.702, "type": "quantitative", "scale": {"domain": [0.7254, 1.702]}, "axis": null}, "y2": {"datum": 1.6681}}},
  {"data": {"name": "yt"}, "transform": [{"filter": "datum.r==3 && datum.k=='maj'"}], "mark": "rule", "encoding": {"y": {"field": "v", "type": "quantitative", "scale": {"domain": [0.7254, 1.702]}, "axis": null}, "x": {"datum": 0, "type": "quantitative", "scale": {"domain": [0, 1]}, "axis": null}, "x2": {"datum": 0.0256}}},
  {"data": {"name": "yt"}, "transform": [{"filter": "datum.r==3 && datum.k=='min'"}], "mark": "rule", "encoding": {"y": {"field": "v", "type": "quantitative", "scale": {"domain": [0.7254, 1.702]}, "axis": null}, "x": {"datum": 0, "type": "quantitative", "scale": {"domain": [0, 1]}, "axis": null}, "x2": {"datum": 0.0142}}},
  {"data": {"name": "yt"}, "transform": [{"filter": "datum.r==3 && datum.k=='maj'"}], "mark": "rule", "encoding": {"y": {"field": "v", "type": "quantitative", "scale": {"domain": [0.7254, 1.702]}, "axis": null}, "x": {"datum": 1, "type": "quantitative", "scale": {"domain": [0, 1]}, "axis": null}, "x2": {"datum": 0.9744}}},
  {"data": {"name": "yt"}, "transform": [{"filter": "datum.r==3 && datum.k=='min'"}], "mark": "rule", "encoding": {"y": {"field": "v", "type": "quantitative", "scale": {"domain": [0.7254, 1.702]}, "axis": null}, "x": {"datum": 1, "type": "quantitative", "scale": {"domain": [0, 1]}, "axis": null}, "x2": {"datum": 0.9858}}},
  {"data": {"name": "yt"}, "transform": [{"filter": "datum.r==3 && datum.k=='maj'"}], "mark": {"type": "text", "align": "right", "baseline": "middle", "dx": -7, "font": "DejaVu Sans", "fontWeight": "bold", "fontSize": 15, "color": "black"},
   "encoding": {"y": {"field": "v", "type": "quantitative", "scale": {"domain": [0.7254, 1.702]}, "axis": null}, "x": {"datum": 0, "type": "quantitative", "scale": {"domain": [0, 1]}, "axis": null}, "text": {"field": "v", "type": "quantitative", "format": ".1f"}}}
 ]},
{"width": 347, "height": 144,
 "layer": [
  {"data": {"name": "curves"}, "transform": [{"filter": "datum.p=='R3' && datum.m=='s'"}], "mark": {"type": "line", "color": "#e8341c", "strokeWidth": 1.4, "clip": true},
   "encoding": {"x": {"field": "x", "type": "quantitative", "scale": {"domain": [0, 0.99]}, "axis": null}, "y": {"field": "v", "type": "quantitative", "scale": {"domain": [0.7254, 1.702]}, "axis": null}}},
  {"data": {"name": "curves"}, "transform": [{"filter": "datum.p=='R3' && datum.m=='d'"}], "mark": {"type": "line", "color": "black", "strokeWidth": 1.4, "strokeDash": [9, 6], "clip": true},
   "encoding": {"x": {"field": "x", "type": "quantitative", "scale": {"domain": [0, 0.99]}, "axis": null}, "y": {"field": "v", "type": "quantitative", "scale": {"domain": [0.7254, 1.702]}, "axis": null}}},
  {"data": {"name": "pts"}, "transform": [{"filter": "datum.p=='R3'"}], "mark": {"type": "rule", "color": "#e8341c", "strokeWidth": 1.5},
   "encoding": {"x": {"field": "x", "type": "quantitative", "scale": {"domain": [0, 0.99]}, "axis": null}, "y": {"field": "lo", "type": "quantitative", "scale": {"domain": [0.7254, 1.702]}, "axis": null}, "y2": {"field": "hi"}}},
  {"data": {"name": "pts"}, "transform": [{"filter": "datum.p=='R3'"}], "mark": {"type": "point", "color": "#e8341c", "strokeWidth": 1.5, "size": 45, "filled": false, "opacity": 1},
   "encoding": {"x": {"field": "x", "type": "quantitative", "scale": {"domain": [0, 0.99]}, "axis": null}, "y": {"field": "v", "type": "quantitative", "scale": {"domain": [0.7254, 1.702]}, "axis": null},
                "shape": {"field": "sym", "type": "nominal", "scale": {"domain": ["dn","sq","up","ci","di"], "range": ["triangle-down","square","triangle-up","circle","diamond"]}, "legend": null}}},
  {"data": {"name": "pts"}, "transform": [{"filter": "datum.p=='R3'"}, {"fold": ["lo", "hi"], "as": ["k", "e"]}], "mark": {"type": "tick", "orient": "horizontal", "color": "#e8341c", "size": 11, "thickness": 1.5},
   "encoding": {"x": {"field": "x", "type": "quantitative", "scale": {"domain": [0, 0.99]}, "axis": null}, "y": {"field": "e", "type": "quantitative", "scale": {"domain": [0.7254, 1.702]}, "axis": null}}},
  {"data": {"name": "labels"}, "transform": [{"filter": "datum.p=='R3'"}], "mark": {"type": "text", "align": "left", "baseline": "middle", "font": "DejaVu Sans", "fontSize": 19, "color": "black"},
   "encoding": {"x": {"field": "x", "type": "quantitative", "scale": {"domain": [0, 0.99]}, "axis": null}, "y": {"field": "v", "type": "quantitative", "scale": {"domain": [0.7254, 1.702]}, "axis": null}, "text": {"field": "t"}}},
  {"data": {"name": "xt"}, "transform": [{"filter": "datum.k=='maj' && datum.x<=0.99"}], "mark": "rule", "encoding": {"x": {"field": "x", "type": "quantitative", "scale": {"domain": [0, 0.99]}, "axis": null}, "y": {"datum": 0.7254, "type": "quantitative", "scale": {"domain": [0.7254, 1.702]}, "axis": null}, "y2": {"datum": 0.7864}}},
  {"data": {"name": "xt"}, "transform": [{"filter": "datum.k=='min'"}], "mark": "rule", "encoding": {"x": {"field": "x", "type": "quantitative", "scale": {"domain": [0, 0.99]}, "axis": null}, "y": {"datum": 0.7254, "type": "quantitative", "scale": {"domain": [0.7254, 1.702]}, "axis": null}, "y2": {"datum": 0.7593}}},
  {"data": {"name": "xt"}, "transform": [{"filter": "datum.k=='maj' && datum.x<=0.99"}], "mark": "rule", "encoding": {"x": {"field": "x", "type": "quantitative", "scale": {"domain": [0, 0.99]}, "axis": null}, "y": {"datum": 1.702, "type": "quantitative", "scale": {"domain": [0.7254, 1.702]}, "axis": null}, "y2": {"datum": 1.641}}},
  {"data": {"name": "xt"}, "transform": [{"filter": "datum.k=='min'"}], "mark": "rule", "encoding": {"x": {"field": "x", "type": "quantitative", "scale": {"domain": [0, 0.99]}, "axis": null}, "y": {"datum": 1.702, "type": "quantitative", "scale": {"domain": [0.7254, 1.702]}, "axis": null}, "y2": {"datum": 1.6681}}},
  {"data": {"name": "yt"}, "transform": [{"filter": "datum.r==3 && datum.k=='maj'"}], "mark": "rule", "encoding": {"y": {"field": "v", "type": "quantitative", "scale": {"domain": [0.7254, 1.702]}, "axis": null}, "x": {"datum": 0, "type": "quantitative", "scale": {"domain": [0, 0.99]}, "axis": null}, "x2": {"datum": 0.0256}}},
  {"data": {"name": "yt"}, "transform": [{"filter": "datum.r==3 && datum.k=='min'"}], "mark": "rule", "encoding": {"y": {"field": "v", "type": "quantitative", "scale": {"domain": [0.7254, 1.702]}, "axis": null}, "x": {"datum": 0, "type": "quantitative", "scale": {"domain": [0, 0.99]}, "axis": null}, "x2": {"datum": 0.0142}}},
  {"data": {"name": "yt"}, "transform": [{"filter": "datum.r==3 && datum.k=='maj'"}], "mark": "rule", "encoding": {"y": {"field": "v", "type": "quantitative", "scale": {"domain": [0.7254, 1.702]}, "axis": null}, "x": {"datum": 0.99, "type": "quantitative", "scale": {"domain": [0, 0.99]}, "axis": null}, "x2": {"datum": 0.9644}}},
  {"data": {"name": "yt"}, "transform": [{"filter": "datum.r==3 && datum.k=='min'"}], "mark": "rule", "encoding": {"y": {"field": "v", "type": "quantitative", "scale": {"domain": [0.7254, 1.702]}, "axis": null}, "x": {"datum": 0.99, "type": "quantitative", "scale": {"domain": [0, 0.99]}, "axis": null}, "x2": {"datum": 0.9758}}}
 ]},
{"width": 352, "height": 145,
 "layer": [
  {"data": {"name": "curves"}, "transform": [{"filter": "datum.p=='L4' && datum.m=='s'"}], "mark": {"type": "line", "color": "#e8341c", "strokeWidth": 1.4, "clip": true},
   "encoding": {"x": {"field": "x", "type": "quantitative", "scale": {"domain": [0, 1]}, "axis": null}, "y": {"field": "v", "type": "quantitative", "scale": {"domain": [0.0464, 0.3104]}, "axis": null}}},
  {"data": {"name": "curves"}, "transform": [{"filter": "datum.p=='L4' && datum.m=='d'"}], "mark": {"type": "line", "color": "black", "strokeWidth": 1.4, "strokeDash": [9, 6], "clip": true},
   "encoding": {"x": {"field": "x", "type": "quantitative", "scale": {"domain": [0, 1]}, "axis": null}, "y": {"field": "v", "type": "quantitative", "scale": {"domain": [0.0464, 0.3104]}, "axis": null}}},
  {"data": {"name": "pts"}, "transform": [{"filter": "datum.p=='L4'"}], "mark": {"type": "rule", "color": "#e8341c", "strokeWidth": 1.5},
   "encoding": {"x": {"field": "x", "type": "quantitative", "scale": {"domain": [0, 1]}, "axis": null}, "y": {"field": "lo", "type": "quantitative", "scale": {"domain": [0.0464, 0.3104]}, "axis": null}, "y2": {"field": "hi"}}},
  {"data": {"name": "pts"}, "transform": [{"filter": "datum.p=='L4'"}], "mark": {"type": "point", "color": "#e8341c", "strokeWidth": 1.5, "size": 45, "filled": false, "opacity": 1},
   "encoding": {"x": {"field": "x", "type": "quantitative", "scale": {"domain": [0, 1]}, "axis": null}, "y": {"field": "v", "type": "quantitative", "scale": {"domain": [0.0464, 0.3104]}, "axis": null},
                "shape": {"field": "sym", "type": "nominal", "scale": {"domain": ["dn","sq","up","ci","di"], "range": ["triangle-down","square","triangle-up","circle","diamond"]}, "legend": null}}},
  {"data": {"name": "pts"}, "transform": [{"filter": "datum.p=='L4'"}, {"fold": ["lo", "hi"], "as": ["k", "e"]}], "mark": {"type": "tick", "orient": "horizontal", "color": "#e8341c", "size": 11, "thickness": 1.5},
   "encoding": {"x": {"field": "x", "type": "quantitative", "scale": {"domain": [0, 1]}, "axis": null}, "y": {"field": "e", "type": "quantitative", "scale": {"domain": [0.0464, 0.3104]}, "axis": null}}},
  {"data": {"name": "xt"}, "transform": [{"filter": "datum.k=='maj'"}], "mark": "rule", "encoding": {"x": {"field": "x", "type": "quantitative", "scale": {"domain": [0, 1]}, "axis": null}, "y": {"datum": 0.0464, "type": "quantitative", "scale": {"domain": [0.0464, 0.3104]}, "axis": null}, "y2": {"datum": 0.0628}}},
  {"data": {"name": "xt"}, "transform": [{"filter": "datum.k=='min'"}], "mark": "rule", "encoding": {"x": {"field": "x", "type": "quantitative", "scale": {"domain": [0, 1]}, "axis": null}, "y": {"datum": 0.0464, "type": "quantitative", "scale": {"domain": [0.0464, 0.3104]}, "axis": null}, "y2": {"datum": 0.0555}}},
  {"data": {"name": "xt"}, "transform": [{"filter": "datum.k=='maj'"}], "mark": "rule", "encoding": {"x": {"field": "x", "type": "quantitative", "scale": {"domain": [0, 1]}, "axis": null}, "y": {"datum": 0.3104, "type": "quantitative", "scale": {"domain": [0.0464, 0.3104]}, "axis": null}, "y2": {"datum": 0.294}}},
  {"data": {"name": "xt"}, "transform": [{"filter": "datum.k=='min'"}], "mark": "rule", "encoding": {"x": {"field": "x", "type": "quantitative", "scale": {"domain": [0, 1]}, "axis": null}, "y": {"datum": 0.3104, "type": "quantitative", "scale": {"domain": [0.0464, 0.3104]}, "axis": null}, "y2": {"datum": 0.3013}}},
  {"data": {"name": "yt"}, "transform": [{"filter": "datum.r==4 && datum.k=='maj'"}], "mark": "rule", "encoding": {"y": {"field": "v", "type": "quantitative", "scale": {"domain": [0.0464, 0.3104]}, "axis": null}, "x": {"datum": 0, "type": "quantitative", "scale": {"domain": [0, 1]}, "axis": null}, "x2": {"datum": 0.0256}}},
  {"data": {"name": "yt"}, "transform": [{"filter": "datum.r==4 && datum.k=='min'"}], "mark": "rule", "encoding": {"y": {"field": "v", "type": "quantitative", "scale": {"domain": [0.0464, 0.3104]}, "axis": null}, "x": {"datum": 0, "type": "quantitative", "scale": {"domain": [0, 1]}, "axis": null}, "x2": {"datum": 0.0142}}},
  {"data": {"name": "yt"}, "transform": [{"filter": "datum.r==4 && datum.k=='maj'"}], "mark": "rule", "encoding": {"y": {"field": "v", "type": "quantitative", "scale": {"domain": [0.0464, 0.3104]}, "axis": null}, "x": {"datum": 1, "type": "quantitative", "scale": {"domain": [0, 1]}, "axis": null}, "x2": {"datum": 0.9744}}},
  {"data": {"name": "yt"}, "transform": [{"filter": "datum.r==4 && datum.k=='min'"}], "mark": "rule", "encoding": {"y": {"field": "v", "type": "quantitative", "scale": {"domain": [0.0464, 0.3104]}, "axis": null}, "x": {"datum": 1, "type": "quantitative", "scale": {"domain": [0, 1]}, "axis": null}, "x2": {"datum": 0.9858}}},
  {"data": {"name": "yt"}, "transform": [{"filter": "datum.r==4 && datum.k=='maj'"}], "mark": {"type": "text", "align": "right", "baseline": "middle", "dx": -7, "font": "DejaVu Sans", "fontWeight": "bold", "fontSize": 15, "color": "black"},
   "encoding": {"y": {"field": "v", "type": "quantitative", "scale": {"domain": [0.0464, 0.3104]}, "axis": null}, "x": {"datum": 0, "type": "quantitative", "scale": {"domain": [0, 1]}, "axis": null}, "text": {"field": "v", "type": "quantitative", "format": ".2f"}}},
  {"data": {"name": "xt"}, "transform": [{"filter": "datum.k=='maj'"}], "mark": {"type": "text", "align": "center", "baseline": "top", "dy": 7, "font": "DejaVu Sans", "fontWeight": "bold", "fontSize": 15, "color": "black"},
   "encoding": {"x": {"field": "x", "type": "quantitative", "scale": {"domain": [0, 1]}, "axis": null}, "y": {"datum": 0.0464, "type": "quantitative", "scale": {"domain": [0.0464, 0.3104]}, "axis": null}, "text": {"field": "x", "type": "quantitative", "format": ".1f"}}},
  {"data": {"name": "axt"}, "transform": [{"filter": "datum.p=='L4'"}], "mark": {"type": "text", "align": "center", "baseline": "middle", "dy": 45, "font": "Liberation Serif", "fontSize": 26, "color": "black"},
   "encoding": {"x": {"datum": 0.5, "type": "quantitative", "scale": {"domain": [0, 1]}, "axis": null}, "y": {"datum": 0.0464, "type": "quantitative", "scale": {"domain": [0.0464, 0.3104]}, "axis": null}, "text": {"field": "t"}}}
 ]},
{"width": 347, "height": 145,
 "layer": [
  {"data": {"name": "curves"}, "transform": [{"filter": "datum.p=='R4' && datum.m=='s'"}], "mark": {"type": "line", "color": "#e8341c", "strokeWidth": 1.4, "clip": true},
   "encoding": {"x": {"field": "x", "type": "quantitative", "scale": {"domain": [0, 0.99]}, "axis": null}, "y": {"field": "v", "type": "quantitative", "scale": {"domain": [0.0464, 0.3104]}, "axis": null}}},
  {"data": {"name": "curves"}, "transform": [{"filter": "datum.p=='R4' && datum.m=='d'"}], "mark": {"type": "line", "color": "black", "strokeWidth": 1.4, "strokeDash": [9, 6], "clip": true},
   "encoding": {"x": {"field": "x", "type": "quantitative", "scale": {"domain": [0, 0.99]}, "axis": null}, "y": {"field": "v", "type": "quantitative", "scale": {"domain": [0.0464, 0.3104]}, "axis": null}}},
  {"data": {"name": "pts"}, "transform": [{"filter": "datum.p=='R4'"}], "mark": {"type": "rule", "color": "#e8341c", "strokeWidth": 1.5},
   "encoding": {"x": {"field": "x", "type": "quantitative", "scale": {"domain": [0, 0.99]}, "axis": null}, "y": {"field": "lo", "type": "quantitative", "scale": {"domain": [0.0464, 0.3104]}, "axis": null}, "y2": {"field": "hi"}}},
  {"data": {"name": "pts"}, "transform": [{"filter": "datum.p=='R4'"}], "mark": {"type": "point", "color": "#e8341c", "strokeWidth": 1.5, "size": 45, "filled": false, "opacity": 1},
   "encoding": {"x": {"field": "x", "type": "quantitative", "scale": {"domain": [0, 0.99]}, "axis": null}, "y": {"field": "v", "type": "quantitative", "scale": {"domain": [0.0464, 0.3104]}, "axis": null},
                "shape": {"field": "sym", "type": "nominal", "scale": {"domain": ["dn","sq","up","ci","di"], "range": ["triangle-down","square","triangle-up","circle","diamond"]}, "legend": null}}},
  {"data": {"name": "pts"}, "transform": [{"filter": "datum.p=='R4'"}, {"fold": ["lo", "hi"], "as": ["k", "e"]}], "mark": {"type": "tick", "orient": "horizontal", "color": "#e8341c", "size": 11, "thickness": 1.5},
   "encoding": {"x": {"field": "x", "type": "quantitative", "scale": {"domain": [0, 0.99]}, "axis": null}, "y": {"field": "e", "type": "quantitative", "scale": {"domain": [0.0464, 0.3104]}, "axis": null}}},
  {"data": {"name": "labels"}, "transform": [{"filter": "datum.p=='R4'"}], "mark": {"type": "text", "align": "left", "baseline": "middle", "font": "DejaVu Sans", "fontSize": 19, "color": "black"},
   "encoding": {"x": {"field": "x", "type": "quantitative", "scale": {"domain": [0, 0.99]}, "axis": null}, "y": {"field": "v", "type": "quantitative", "scale": {"domain": [0.0464, 0.3104]}, "axis": null}, "text": {"field": "t"}}},
  {"data": {"name": "xt"}, "transform": [{"filter": "datum.k=='maj' && datum.x<=0.99"}], "mark": "rule", "encoding": {"x": {"field": "x", "type": "quantitative", "scale": {"domain": [0, 0.99]}, "axis": null}, "y": {"datum": 0.0464, "type": "quantitative", "scale": {"domain": [0.0464, 0.3104]}, "axis": null}, "y2": {"datum": 0.0628}}},
  {"data": {"name": "xt"}, "transform": [{"filter": "datum.k=='min'"}], "mark": "rule", "encoding": {"x": {"field": "x", "type": "quantitative", "scale": {"domain": [0, 0.99]}, "axis": null}, "y": {"datum": 0.0464, "type": "quantitative", "scale": {"domain": [0.0464, 0.3104]}, "axis": null}, "y2": {"datum": 0.0555}}},
  {"data": {"name": "xt"}, "transform": [{"filter": "datum.k=='maj' && datum.x<=0.99"}], "mark": "rule", "encoding": {"x": {"field": "x", "type": "quantitative", "scale": {"domain": [0, 0.99]}, "axis": null}, "y": {"datum": 0.3104, "type": "quantitative", "scale": {"domain": [0.0464, 0.3104]}, "axis": null}, "y2": {"datum": 0.294}}},
  {"data": {"name": "xt"}, "transform": [{"filter": "datum.k=='min'"}], "mark": "rule", "encoding": {"x": {"field": "x", "type": "quantitative", "scale": {"domain": [0, 0.99]}, "axis": null}, "y": {"datum": 0.3104, "type": "quantitative", "scale": {"domain": [0.0464, 0.3104]}, "axis": null}, "y2": {"datum": 0.3013}}},
  {"data": {"name": "yt"}, "transform": [{"filter": "datum.r==4 && datum.k=='maj'"}], "mark": "rule", "encoding": {"y": {"field": "v", "type": "quantitative", "scale": {"domain": [0.0464, 0.3104]}, "axis": null}, "x": {"datum": 0, "type": "quantitative", "scale": {"domain": [0, 0.99]}, "axis": null}, "x2": {"datum": 0.0256}}},
  {"data": {"name": "yt"}, "transform": [{"filter": "datum.r==4 && datum.k=='min'"}], "mark": "rule", "encoding": {"y": {"field": "v", "type": "quantitative", "scale": {"domain": [0.0464, 0.3104]}, "axis": null}, "x": {"datum": 0, "type": "quantitative", "scale": {"domain": [0, 0.99]}, "axis": null}, "x2": {"datum": 0.0142}}},
  {"data": {"name": "yt"}, "transform": [{"filter": "datum.r==4 && datum.k=='maj'"}], "mark": "rule", "encoding": {"y": {"field": "v", "type": "quantitative", "scale": {"domain": [0.0464, 0.3104]}, "axis": null}, "x": {"datum": 0.99, "type": "quantitative", "scale": {"domain": [0, 0.99]}, "axis": null}, "x2": {"datum": 0.9644}}},
  {"data": {"name": "yt"}, "transform": [{"filter": "datum.r==4 && datum.k=='min'"}], "mark": "rule", "encoding": {"y": {"field": "v", "type": "quantitative", "scale": {"domain": [0.0464, 0.3104]}, "axis": null}, "x": {"datum": 0.99, "type": "quantitative", "scale": {"domain": [0, 0.99]}, "axis": null}, "x2": {"datum": 0.9758}}},
  {"data": {"name": "xt"}, "transform": [{"filter": "datum.k=='maj' && datum.x < 0.9"}], "mark": {"type": "text", "align": "center", "baseline": "top", "dy": 7, "font": "DejaVu Sans", "fontWeight": "bold", "fontSize": 15, "color": "black"},
   "encoding": {"x": {"field": "x", "type": "quantitative", "scale": {"domain": [0, 0.99]}, "axis": null}, "y": {"datum": 0.0464, "type": "quantitative", "scale": {"domain": [0.0464, 0.3104]}, "axis": null}, "text": {"field": "x", "type": "quantitative", "format": ".1f"}}},
  {"data": {"name": "axt"}, "transform": [{"filter": "datum.p=='R4'"}], "mark": {"type": "text", "align": "center", "baseline": "middle", "dy": 45, "font": "Liberation Serif", "fontSize": 26, "color": "black"},
   "encoding": {"x": {"datum": 0.495, "type": "quantitative", "scale": {"domain": [0, 0.99]}, "axis": null}, "y": {"datum": 0.0464, "type": "quantitative", "scale": {"domain": [0.0464, 0.3104]}, "axis": null}, "text": {"field": "t"}}}
 ]}
]
}
